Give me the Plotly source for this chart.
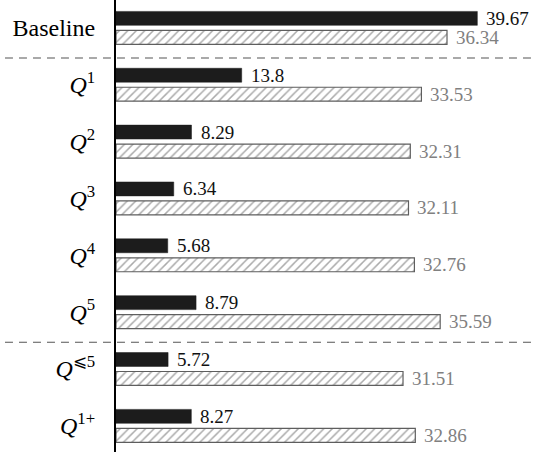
import plotly.graph_objects as go

# Row labels (top to bottom) and the two series of scores
labels = [
    "Baseline",
    "<i>Q</i><sup>1</sup>",
    "<i>Q</i><sup>2</sup>",
    "<i>Q</i><sup>3</sup>",
    "<i>Q</i><sup>4</sup>",
    "<i>Q</i><sup>5</sup>",
    "<i>Q</i><sup>⩽5</sup>",
    "<i>Q</i><sup>1+</sup>",
]
solid_values = [39.67, 13.8, 8.29, 6.34, 5.68, 8.79, 5.72, 8.27]
hatched_values = [36.34, 33.53, 32.31, 32.11, 32.76, 35.59, 31.51, 32.86]
# group boundaries drawn as dashed separators (after these row indices)
separator_after = [0, 5]

rows = list(range(len(labels)))
offset = 0.167
bar_w = 0.245
serif = "Liberation Serif, Times New Roman, serif"

fig = go.Figure()
fig.add_trace(go.Bar(
    orientation="h",
    y=[r - offset for r in rows],
    x=solid_values,
    width=bar_w,
    marker=dict(color="#1c1c1c", line=dict(color="#1c1c1c", width=0.5)),
    showlegend=False,
    hoverinfo="x",
))
fig.add_trace(go.Bar(
    orientation="h",
    y=[r + offset for r in rows],
    x=hatched_values,
    width=bar_w,
    marker=dict(
        color="white",
        line=dict(color="#5e5e5e", width=1.2),
        pattern=dict(shape="/", fgcolor="#555555", bgcolor="white",
                     size=6, solidity=0.25),
    ),
    showlegend=False,
    hoverinfo="x",
))

# value labels next to the bar ends
for r, v in zip(rows, solid_values):
    fig.add_annotation(x=v, y=r - offset, text=f"{v:g}", showarrow=False,
                       xanchor="left", yanchor="middle", xshift=7,
                       font=dict(family=serif, size=19, color="#111"))
for r, v in zip(rows, hatched_values):
    fig.add_annotation(x=v, y=r + offset, text=f"{v:g}", showarrow=False,
                       xanchor="left", yanchor="middle", xshift=7,
                       font=dict(family=serif, size=19, color="#808080"))

# dashed separators spanning the full width
for s in separator_after:
    fig.add_shape(type="line", xref="paper", x0=-0.265, x1=1.0,
                  yref="y", y0=s + 0.53, y1=s + 0.53,
                  line=dict(color="#555", width=1.2, dash="8px,6px"))

fig.update_layout(
    width=535, height=452,
    margin=dict(l=116, r=0, t=0, b=0),
    plot_bgcolor="white", paper_bgcolor="white",
    barmode="overlay",
    font=dict(family=serif, color="black"),
)
fig.update_xaxes(range=[0, 46.0], visible=False, fixedrange=True)
fig.update_yaxes(
    range=[7.46, -0.49],
    tickvals=rows, ticktext=labels,
    tickfont=dict(family=serif, size=24, color="black"),
    showgrid=False, zeroline=False,
    showline=True, linecolor="black", linewidth=2,
    ticks="", ticklabelstandoff=14,
    fixedrange=True,
)

fig.write_html("out.html")
